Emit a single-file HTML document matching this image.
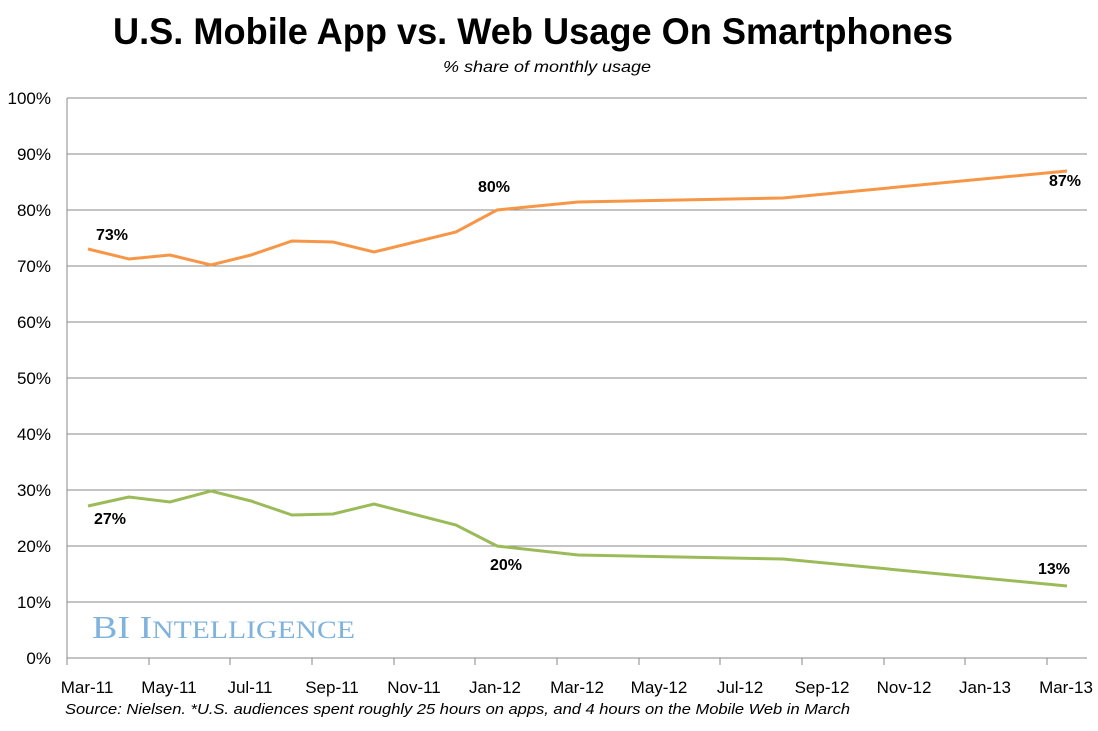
<!DOCTYPE html>
<html><head><meta charset="utf-8"><style>
body{margin:0;background:#fff;width:1098px;height:726px;overflow:hidden;font-family:"Liberation Sans",sans-serif;}
</style></head><body>
<svg width="1098" height="726" xmlns="http://www.w3.org/2000/svg" font-family="Liberation Sans, sans-serif">
<rect width="1098" height="726" fill="#fff"/>
<text x="113" y="44" font-size="37" font-weight="bold" fill="#000" textLength="840" lengthAdjust="spacingAndGlyphs">U.S. Mobile App vs. Web Usage On Smartphones</text>
<text x="443" y="72" font-size="16" font-style="italic" fill="#000" textLength="208" lengthAdjust="spacingAndGlyphs">% share of monthly usage</text>
<g stroke="#888" stroke-width="1">
<line x1="67" y1="98" x2="1087" y2="98"/><line x1="67" y1="154" x2="1087" y2="154"/><line x1="67" y1="210" x2="1087" y2="210"/><line x1="67" y1="266" x2="1087" y2="266"/><line x1="67" y1="322" x2="1087" y2="322"/><line x1="67" y1="378" x2="1087" y2="378"/><line x1="67" y1="434" x2="1087" y2="434"/><line x1="67" y1="490" x2="1087" y2="490"/><line x1="67" y1="546" x2="1087" y2="546"/><line x1="67" y1="602" x2="1087" y2="602"/><line x1="67" y1="658" x2="1087" y2="658"/>
<line x1="67" y1="98" x2="67" y2="658"/>
<line x1="67" y1="658" x2="67" y2="665"/><line x1="149" y1="658" x2="149" y2="665"/><line x1="230" y1="658" x2="230" y2="665"/><line x1="312" y1="658" x2="312" y2="665"/><line x1="394" y1="658" x2="394" y2="665"/><line x1="475" y1="658" x2="475" y2="665"/><line x1="557" y1="658" x2="557" y2="665"/><line x1="639" y1="658" x2="639" y2="665"/><line x1="720" y1="658" x2="720" y2="665"/><line x1="802" y1="658" x2="802" y2="665"/><line x1="884" y1="658" x2="884" y2="665"/><line x1="965" y1="658" x2="965" y2="665"/><line x1="1047" y1="658" x2="1047" y2="665"/>
</g>
<g font-size="17" fill="#000" text-anchor="end">
<text x="51" y="104">100%</text><text x="51" y="160">90%</text><text x="51" y="216">80%</text><text x="51" y="272">70%</text><text x="51" y="328">60%</text><text x="51" y="384">50%</text><text x="51" y="440">40%</text><text x="51" y="496">30%</text><text x="51" y="552">20%</text><text x="51" y="608">10%</text><text x="51" y="664">0%</text>
</g>
<g font-size="17" fill="#000" text-anchor="middle">
<text x="87" y="693">Mar-11</text><text x="169" y="693">May-11</text><text x="250" y="693">Jul-11</text><text x="332" y="693">Sep-11</text><text x="414" y="693">Nov-11</text><text x="495" y="693">Jan-12</text><text x="577" y="693">Mar-12</text><text x="659" y="693">May-12</text><text x="740" y="693">Jul-12</text><text x="822" y="693">Sep-12</text><text x="904" y="693">Nov-12</text><text x="985" y="693">Jan-13</text><text x="1066" y="693">Mar-13</text>
</g>
<text x="65" y="714" font-size="15" font-style="italic" fill="#000" textLength="785" lengthAdjust="spacingAndGlyphs">Source: Nielsen. *U.S. audiences spent roughly 25 hours on apps, and 4 hours on the Mobile Web in March</text>
<text x="92" y="638" font-family="Liberation Serif, serif" font-size="32" fill="#7fb2dc" textLength="263" lengthAdjust="spacingAndGlyphs">BI I<tspan font-size="25">NTELLIGENCE</tspan></text>
<polyline fill="none" stroke="#f79646" stroke-width="3" points="88,249 129,259 170,255 211,265 251,255 292,241 333,242 374,252 456,232 497,210 578,202 783,198 1067,171"/>
<polyline fill="none" stroke="#9bbb59" stroke-width="3" points="88,506 129,497 170,502 211,491 251,501 292,515 333,514 374,504 456,525 497,546 578,555 783,559 1067,586"/>
<g font-size="16" font-weight="bold" fill="#000" text-anchor="middle">
<text x="112" y="240">73%</text><text x="494" y="192">80%</text><text x="1065" y="186">87%</text>
<text x="110" y="524">27%</text><text x="506" y="570">20%</text><text x="1054" y="574">13%</text>
</g>
</svg>
</body></html>
